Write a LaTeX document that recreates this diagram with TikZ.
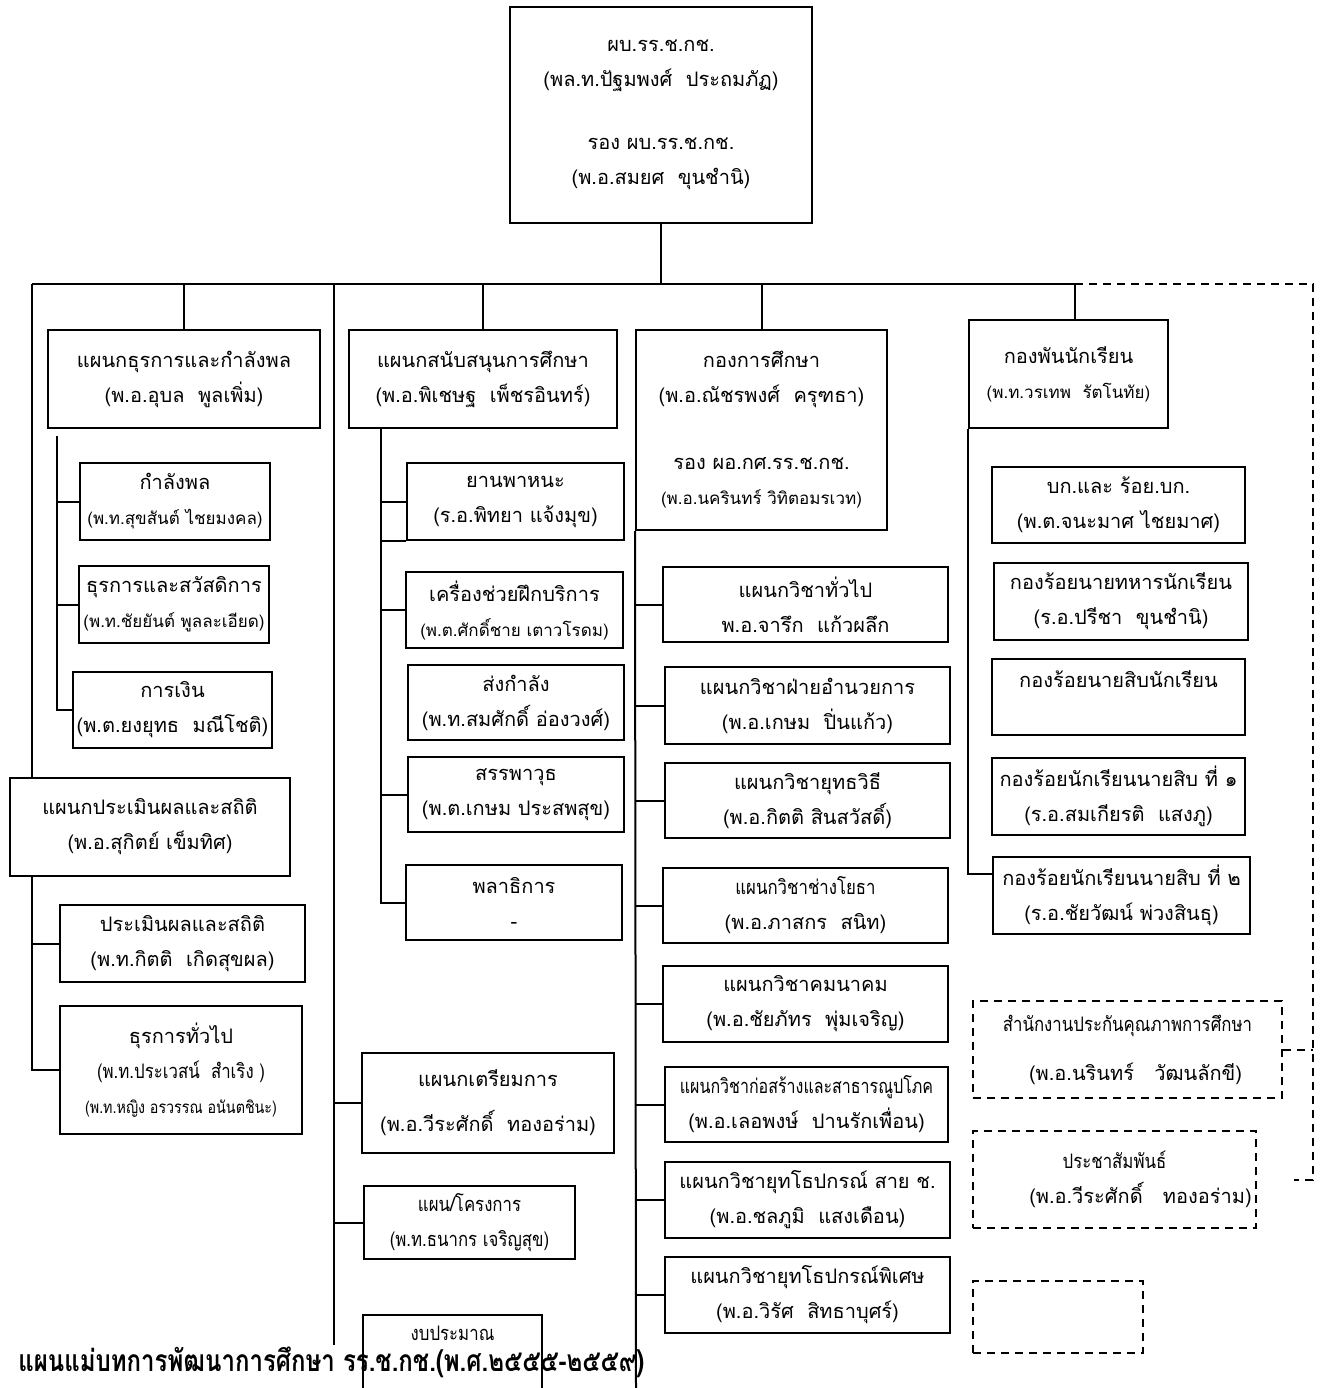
\documentclass[tikz,border=0pt]{standalone}
\usepackage{fontspec}
\newfontfamily\thai[Script=Thai]{Loma}
\usetikzlibrary{positioning,calc}

\newcommand{\smname}{\fontsize{8.5}{17}\selectfont}
\newcommand{\narrow}[1]{\scalebox{0.84}[1]{#1}}
\tikzset{
  unit/.style={draw, line width=1pt, align=center, inner sep=2pt,
    font=\thai\fontsize{10}{17.5}\selectfont},
  dunit/.style={unit, dash pattern=on 4pt off 3pt},
  link/.style={line width=1pt},
  dlink/.style={link, dash pattern=on 4pt off 3pt}
}

\begin{document}
\begin{tikzpicture}[x=0.5pt,y=-0.5pt]
    \useasboundingbox (0,0) rectangle (1322,1388);
    \clip (0,0) rectangle (1322,1388);

    % Head
    \node[unit, minimum width=151pt, minimum height=108pt] (top) at (661,115)
        {ผบ.รร.ช.กช.\\(พล.ท.ปัฐมพงศ์~ ประถมภัฏ)\\[14pt]รอง ผบ.รร.ช.กช.\\(พ.อ.สมยศ~ ขุนชำนิ)};

    % Bus
    \coordinate (busL) at (32,284);
    \coordinate (busR) at (1075,284);
    \coordinate (busE) at (1313,284);
    \coordinate (dashEnd) at (1313,1180);
    \coordinate (dashStub) at (1294,1180);

    % Left column
    \node[unit, minimum width=136pt, minimum height=49pt] (admin) at (184,379)
        {แผนกธุรการและกำลังพล\\(พ.อ.อุบล~ พูลเพิ่ม)};
    \node[unit, minimum width=95pt, minimum height=38.5pt] (kamlang) at (175,501.5)
        {กำลังพล\\{\smname(พ.ท.สุขสันต์ ไชยมงคล)}};
    \node[unit, minimum width=95pt, minimum height=38.5pt] (thurakan) at (174,604.5)
        {ธุรการและสวัสดิการ\\{\smname(พ.ท.ชัยยันต์ พูลละเอียด)}};
    \node[unit, minimum width=92.5pt, minimum height=38pt] (ngoen) at (172.5,710)
        {การเงิน\\(พ.ต.ยงยุทธ~ มณีโชติ)};
    \node[unit, minimum width=140pt, minimum height=49pt] (eval) at (150,827)
        {แผนกประเมินผลและสถิติ\\(พ.อ.สุกิตย์ เข็มทิศ)};
    \node[unit, minimum width=122.5pt, minimum height=38.5pt] (pmp) at (182.5,943.5)
        {ประเมินผลและสถิติ\\(พ.ท.กิตติ~ เกิดสุขผล)};
    \node[unit, minimum width=121pt, minimum height=64pt] (thuapai) at (181,1070)
        {ธุรการทั่วไป\\\narrow{(พ.ท.ประเวสน์~ สำเริง )}\\{\smname\narrow{(พ.ท.หญิง อรวรรณ อนันตชินะ)}}};
    \coordinate (spA) at (57,436);

    % Second column
    \node[unit, minimum width=134pt, minimum height=49pt] (support) at (483,379)
        {แผนกสนับสนุนการศึกษา\\(พ.อ.พิเชษฐ~ เพ็ชรอินทร์)};
    \node[unit, minimum width=108.5pt, minimum height=38.5pt] (vehicle) at (515.5,501.5)
        {ยานพาหนะ\\(ร.อ.พิทยา แจ้งมุข)};
    \node[unit, minimum width=108.5pt, minimum height=38pt] (trainaid) at (514.5,610)
        {เครื่องช่วยฝึกบริการ\\{\smname(พ.ต.ศักดิ์ชาย เตาวโรดม)}};
    \node[unit, minimum width=108pt, minimum height=37.5pt] (supply) at (516,702.5)
        {ส่งกำลัง\\(พ.ท.สมศักดิ์ อ่องวงศ์)};
    \node[unit, minimum width=108pt, minimum height=37.5pt] (ordnance) at (516,794.5)
        {สรรพาวุธ\\(พ.ต.เกษม ประสพสุข)};
    \node[unit, minimum width=108pt, minimum height=37.5pt] (quarter) at (514,902.5)
        {พลาธิการ\\-};
    \node[unit, minimum width=126pt, minimum height=50pt] (prep) at (488,1103)
        {แผนกเตรียมการ\\[5pt](พ.อ.วีระศักดิ์~ ทองอร่าม)};
    \node[unit, minimum width=105.5pt, minimum height=36.5pt] (plan) at (469.5,1222.5)
        {\narrow{แผน/โครงการ}\\\narrow{(พ.ท.ธนากร เจริญสุข)}};
    \node[unit, minimum width=89.5pt, minimum height=45pt] (budget) at (452.5,1360)
        {\narrow{งบประมาณ}\\[9pt]~};
    \coordinate (spB) at (334,284);
    \coordinate (spBend) at (334,1345);
    \coordinate (spB2) at (381,428);

    % Education division
    \node[unit, minimum width=125.5pt, minimum height=100pt] (edu) at (761.5,430)
        {กองการศึกษา\\(พ.อ.ณัชรพงศ์~ ครุฑธา)\\[16pt]รอง ผอ.กศ.รร.ช.กช.\\{\smname(พ.อ.นครินทร์ วิทิตอมรเวท)}};
    \node[unit, minimum width=142.5pt, minimum height=37.5pt] (dep1) at (805.5,604.5)
        {แผนกวิชาทั่วไป\\พ.อ.จารึก~ แก้วผลึก};
    \node[unit, minimum width=142.5pt, minimum height=38.5pt] (dep2) at (807.5,705.5)
        {แผนกวิชาฝ่ายอำนวยการ\\(พ.อ.เกษม~ ปิ่นแก้ว)};
    \node[unit, minimum width=142.5pt, minimum height=37.5pt] (dep3) at (807.5,800.5)
        {แผนกวิชายุทธวิธี\\(พ.อ.กิตติ สินสวัสดิ์)};
    \node[unit, minimum width=142.5pt, minimum height=37.5pt] (dep4) at (805.5,905.5)
        {\narrow{แผนกวิชาช่างโยธา}\\(พ.อ.ภาสกร~ สนิท)};
    \node[unit, minimum width=142.5pt, minimum height=38pt] (dep5) at (805.5,1004)
        {แผนกวิชาคมนาคม\\(พ.อ.ชัยภัทร~ พุ่มเจริญ)};
    \node[unit, minimum width=141.5pt, minimum height=37.5pt] (dep6) at (806.5,1104.5)
        {\scalebox{0.8}[1]{แผนกวิชาก่อสร้างและสาธารณูปโภค}\\(พ.อ.เลอพงษ์~ ปานรักเพื่อน)};
    \node[unit, minimum width=142.5pt, minimum height=38pt] (dep7) at (807.5,1200)
        {แผนกวิชายุทโธปกรณ์ สาย ช.\\(พ.อ.ชลภูมิ~ แสงเดือน)};
    \node[unit, minimum width=142.5pt, minimum height=38pt] (dep8) at (807.5,1295)
        {แผนกวิชายุทโธปกรณ์พิเศษ\\(พ.อ.วิรัศ~ สิทธาบุศร์)};
    \coordinate (spCend) at (636,1388);

    % Cadet battalion
    \node[unit, minimum width=99.5pt, minimum height=54pt] (cadet) at (1068.5,374)
        {กองพันนักเรียน\\{\smname(พ.ท.วรเทพ~ รัตโนทัย)}};
    \node[unit, minimum width=126.5pt, minimum height=38pt] (coy1) at (1118.5,505)
        {บก.และ ร้อย.บก.\\(พ.ต.จนะมาศ ไชยมาศ)};
    \node[unit, minimum width=127pt, minimum height=38.5pt] (coy2) at (1121,601.5)
        {กองร้อยนายทหารนักเรียน\\(ร.อ.ปรีชา~ ขุนชำนิ)};
    \node[unit, minimum width=126.5pt, minimum height=38pt] (coy3) at (1118.5,697)
        {กองร้อยนายสิบนักเรียน\\~};
    \node[unit, minimum width=126.5pt, minimum height=38.5pt] (coy4) at (1118.5,796.5)
        {กองร้อยนักเรียนนายสิบ ที่ ๑\\(ร.อ.สมเกียรติ~ แสงภู)};
    \node[unit, minimum width=128.5pt, minimum height=38.5pt] (coy5) at (1121.5,895.5)
        {กองร้อยนักเรียนนายสิบ ที่ ๒\\(ร.อ.ชัยวัฒน์ พ่วงสินธุ)};

    % Staff offices (dashed)
    \node[dunit, minimum width=154.5pt, minimum height=48.5pt] (qa) at (1127.5,1049.5)
        {\narrow{สำนักงานประกันคุณภาพการศึกษา}\\[7pt]\hspace*{8pt}(พ.อ.นรินทร์~~ วัฒนลักขี)};
    \node[dunit, minimum width=141.5pt, minimum height=48.5pt] (pr) at (1114.5,1179.5)
        {\narrow{ประชาสัมพันธ์}\\\hspace*{26pt}(พ.อ.วีระศักดิ์~~ ทองอร่าม)};
    \node[dunit, minimum width=85pt, minimum height=36pt] (blank) at (1058,1317) {};

    % Lines
    \draw[link] (top.south) -- (top.south |- busL);
    \draw[link] (busL) -- (busR);
    \draw[dlink] (busR) -- (busE) -- (dashEnd) -- (dashStub);
    \draw[dlink] (qa.east) -- (qa.east -| busE);

    \draw[link] (busL) -- (busL |- eval.north);
    \draw[link] (admin.north) -- (admin.north |- busL);
    \draw[link] (spA) |- (kamlang.west);
    \draw[link] (spA) |- (thurakan.west);
    \draw[link] (spA) |- (ngoen.west);
    \draw[link] (eval.south -| busL) |- (pmp.west);
    \draw[link] (eval.south -| busL) |- (thuapai.west);

    \draw[link] (spB) -- (spBend);
    \draw[link] (prep.west -| spB) -- (prep.west);
    \draw[link] (plan.west -| spB) -- (plan.west);
    \draw[link] (support.north) -- (support.north |- busL);
    \draw[link] (spB2) |- (vehicle.west);
    \draw[link] (vehicle.south west) -- (vehicle.south west -| spB2);
    \draw[link] (spB2) |- (trainaid.west);
    \draw[link] (spB2) |- (ordnance.west);
    \draw[link] (spB2) |- (quarter.west);

    \draw[link] (edu.north) -- (edu.north |- busL);
    \draw[link] (edu.south west) -- (spCend);
    \foreach \d in {dep1,dep2,dep3,dep4,dep5,dep6,dep7,dep8}
        \draw[link] (\d.west -| spCend) -- (\d.west);

    \draw[link] (busR) -- (busR |- cadet.north);
    \draw[link] (cadet.south west) |- ([yshift=11pt]coy5.west);

    % Title
    \node[anchor=west, inner sep=0pt, font=\thai\bfseries\fontsize{15}{17}\selectfont] (title) at (18,1362)
        {\scalebox{0.8}[1]{แผนแม่บทการพัฒนาการศึกษา รร.ช.กช.(พ.ศ.๒๕๕๕-๒๕๕๙)}};
\end{tikzpicture}
\end{document}
